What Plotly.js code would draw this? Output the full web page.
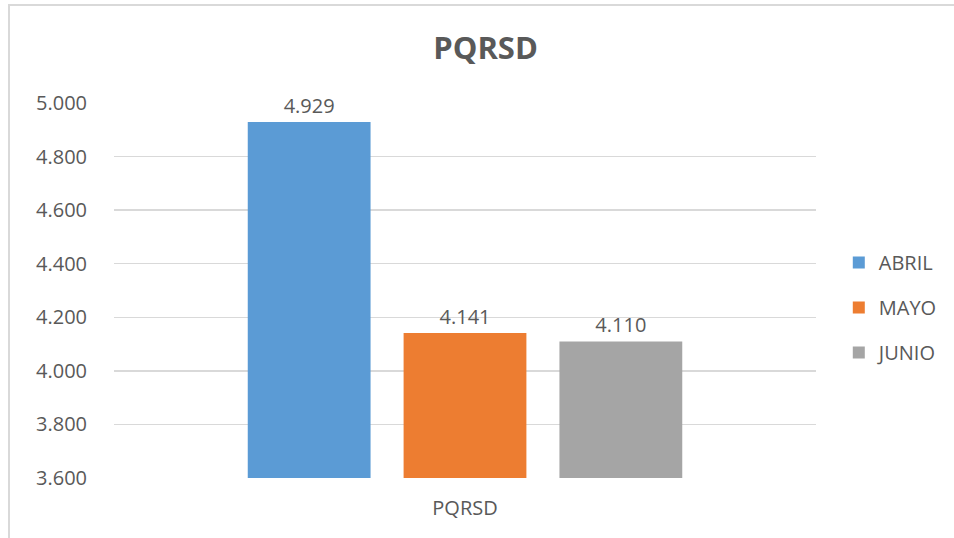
<!DOCTYPE html>
<html><head><meta charset="utf-8">
<script src="https://cdn.plot.ly/plotly-3.0.1.min.js"></script>
<style>
html,body{margin:0;padding:0;background:#fff;overflow:hidden;}
#chart{width:954px;height:538px;}
#frame{position:absolute;left:8px;top:4px;width:980px;height:580px;border-top:2px solid #d9d9d9;border-left:2px solid #d9d9d9;pointer-events:none;}
</style>
</head><body>
<div id="chart"></div><div id="frame"></div>
<script>
const categories = ['PQRSD'];
const seriesNames = ['ABRIL', 'MAYO', 'JUNIO'];
const abrilValues = [4929];
const mayoValues = [4141];
const junioValues = [4110];
const seriesColors = ['#5B9BD5', '#ED7D31', '#A5A5A5'];
const yTickValues = [3600, 3800, 4000, 4200, 4400, 4600, 4800, 5000];

const allValues = [abrilValues, mayoValues, junioValues];
const font = {family: 'Open Sans, Liberation Sans, sans-serif', size: 20, color: '#595959'};

const traces = seriesNames.map((name, i) => ({
  type: 'bar',
  name: name,
  x: categories,
  y: allValues[i],
  marker: {color: seriesColors[i]},
  texttemplate: '%{y:,d}',
  textposition: 'outside',
  textfont: font,
  cliponaxis: false,
  legendgroup: name,
  hoverinfo: 'none'
}));

const layout = {
  width: 954, height: 538,
  margin: {l: 114, r: 137, t: 103, b: 60},
  paper_bgcolor: '#fff', plot_bgcolor: '#fff',
  separators: ',.',
  font: font,
  title: {text: '<b>PQRSD</b>', font: {family: 'Open Sans, sans-serif', size: 31, color: '#595959'}, x: 0.509, xanchor: 'center', y: 0.91, yanchor: 'middle'},
  barmode: 'group',
  bargap: 0.334,
  bargroupgap: 0.212,
  showlegend: true,
  legend: {x: 1.031, xanchor: 'left', y: 0.455, yanchor: 'middle', traceorder: 'grouped', tracegroupgap: 16, font: font, bgcolor: 'rgba(0,0,0,0)'},
  xaxis: {type: 'category', showgrid: false, showline: false, zeroline: false, ticks: '', tickfont: font, ticklabelstandoff: 16},
  yaxis: {range: [3600, 5000], tickvals: yTickValues, tickformat: ',d', showgrid: true, gridcolor: '#D9D9D9', gridwidth: 1.3, zeroline: false, showline: false, ticks: '', tickfont: font, ticklabelstandoff: 26}
};

Plotly.newPlot('chart', traces, layout, {staticPlot: true, displayModeBar: false});
</script>
</body></html>
